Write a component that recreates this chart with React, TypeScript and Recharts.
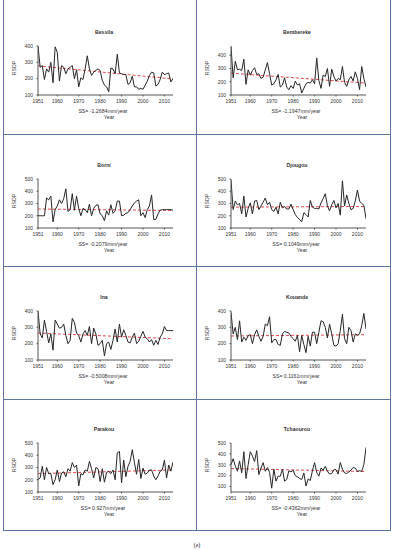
import React from 'react';
import { LineChart, Line, XAxis, YAxis, ReferenceLine } from 'recharts';

const years = [1951, 1952, 1953, 1954, 1955, 1956, 1957, 1958, 1959, 1960, 1961, 1962, 1963, 1964, 1965, 1966, 1967, 1968, 1969, 1970, 1971, 1972, 1973, 1974, 1975, 1976, 1977, 1978, 1979, 1980, 1981, 1982, 1983, 1984, 1985, 1986, 1987, 1988, 1989, 1990, 1991, 1992, 1993, 1994, 1995, 1996, 1997, 1998, 1999, 2000, 2001, 2002, 2003, 2004, 2005, 2006, 2007, 2008, 2009, 2010, 2011, 2012, 2013, 2014];
const xTicks = [1951, 1960, 1970, 1980, 1990, 2000, 2010];

const bessila = [400, 270, 280, 195, 260, 240, 300, 175, 395, 360, 185, 280, 270, 230, 260, 270, 280, 200, 255, 150, 205, 195, 260, 340, 260, 220, 240, 250, 260, 250, 190, 160, 150, 120, 265, 260, 230, 350, 235, 230, 225, 225, 165, 175, 215, 150, 150, 135, 140, 135, 160, 185, 220, 240, 235, 155, 165, 195, 240, 225, 230, 235, 180, 200];
const bembereke = [465, 230, 355, 290, 295, 285, 370, 180, 290, 250, 285, 305, 255, 260, 225, 235, 290, 345, 260, 175, 185, 215, 255, 160, 175, 230, 160, 140, 170, 150, 205, 175, 185, 115, 150, 185, 195, 190, 215, 185, 380, 210, 150, 250, 240, 300, 165, 295, 240, 205, 225, 215, 315, 195, 165, 215, 240, 205, 275, 225, 140, 315, 225, 160];
const borni = [200, 200, 200, 200, 345, 330, 360, 150, 250, 280, 330, 300, 340, 420, 235, 250, 380, 245, 360, 260, 200, 260, 250, 225, 295, 200, 260, 285, 290, 215, 200, 160, 240, 205, 290, 220, 240, 320, 320, 200, 205, 220, 225, 250, 280, 305, 320, 330, 200, 225, 185, 250, 280, 370, 170, 170, 215, 245, 250, 250, 250, 250, 250, 245];
const djougou = [490, 250, 320, 290, 300, 215, 360, 190, 260, 305, 215, 320, 325, 250, 280, 310, 345, 290, 310, 250, 235, 270, 215, 310, 265, 275, 255, 255, 295, 250, 210, 185, 170, 150, 225, 210, 190, 325, 270, 260, 260, 255, 305, 340, 380, 280, 240, 290, 325, 265, 300, 205, 485, 280, 370, 300, 250, 260, 320, 410, 320, 300, 285, 175];
const ina = [400, 260, 235, 345, 275, 205, 260, 160, 345, 320, 295, 300, 320, 250, 200, 220, 355, 330, 265, 250, 210, 260, 280, 250, 305, 200, 295, 260, 190, 200, 220, 125, 200, 210, 165, 220, 290, 210, 320, 240, 285, 250, 210, 205, 240, 265, 200, 215, 245, 275, 240, 230, 210, 225, 190, 220, 195, 240, 260, 305, 280, 280, 280, 280];
const kouande = [390, 260, 300, 225, 340, 210, 240, 220, 250, 255, 200, 255, 285, 245, 215, 245, 320, 310, 365, 205, 225, 225, 195, 190, 260, 275, 270, 265, 245, 230, 215, 250, 150, 250, 195, 145, 245, 185, 270, 270, 200, 270, 340, 335, 300, 235, 320, 260, 190, 185, 200, 280, 380, 230, 200, 300, 280, 210, 260, 250, 260, 310, 385, 290];
const parakou = [200, 215, 310, 200, 300, 250, 250, 160, 200, 280, 185, 255, 265, 225, 290, 270, 340, 300, 320, 150, 250, 240, 280, 270, 350, 290, 215, 300, 290, 185, 290, 180, 260, 270, 250, 280, 200, 420, 430, 175, 360, 225, 310, 350, 445, 340, 245, 365, 210, 295, 245, 255, 280, 280, 230, 200, 230, 270, 280, 360, 215, 320, 270, 345];
const tchaourou = [300, 355, 290, 240, 335, 225, 420, 175, 300, 420, 380, 330, 430, 210, 270, 320, 240, 275, 230, 85, 260, 150, 195, 195, 260, 150, 165, 245, 235, 250, 200, 190, 175, 165, 225, 105, 170, 155, 245, 320, 230, 195, 270, 250, 285, 240, 215, 220, 255, 255, 215, 320, 260, 225, 220, 235, 250, 275, 270, 240, 245, 240, 300, 460];

const stationNames = ['Bessila', 'Bembereke', 'Borni', 'Djougou', 'Ina', 'Kouande', 'Parakou', 'Tchaourou'];
const slopeLabels = ['SS= -1.2684mm/year', 'SS= -1.1947mm/year', 'SS= -0.2079mm/year', 'SS= 0.1049mm/year', 'SS= -0.5008mm/year', 'SS= 0.1161mm/year', 'SS= 0.927mm/year', 'SS= -0.4362mm/year'];
const trendStart = [278, 265, 255, 270, 265, 247, 250, 265];
const trendEnd = [198, 190, 243, 276, 230, 255, 280, 238];
const yMax = [400, 470, 500, 500, 400, 400, 500, 500];
const yMin = [100, 100, 100, 100, 100, 100, 100, 50];
const ticks400 = [100, 200, 300, 400];
const ticks500 = [100, 200, 300, 400, 500];
const seriesList = [bessila, bembereke, borni, djougou, ina, kouande, parakou, tchaourou];

const FONT = '"Liberation Sans", Arial, sans-serif';
const BORDER = '#5a74a3';

const colX = [3, 196];
const colW = [193, 194];
const rowY = [0, 134, 266, 399];
const rowH = [134, 132, 133, 131];
const plotTopRel = [46, 45, 45, 44];

function Panel({ idx }: { idx: number }) {
  const col = idx % 2;
  const row = Math.floor(idx / 2);
  const px = colX[col];
  const py = rowY[row];
  const w = colW[col];
  const h = rowH[row];
  const pt = plotTopRel[row];
  const plotW = 135;
  const plotH = 49;
  const xAxisH = 14;
  const data = years.map((y, i) => ({ year: y, v: seriesList[idx][i] }));
  const yTicks = yMax[idx] >= 500 ? ticks500 : ticks400;
  const txt: React.CSSProperties = {
    position: 'absolute',
    fontFamily: FONT,
    fontSize: 5.2,
    color: '#333',
    whiteSpace: 'nowrap',
    lineHeight: '6px',
  };
  const tickStyle = { fontSize: 5, fill: '#333', fontFamily: FONT };
  return (
    <div style={{ position: 'absolute', left: px, top: py, width: w, height: h }}>
      <LineChart
        width={w}
        height={h}
        data={data}
        margin={{ top: pt, left: 0, right: w - 35 - plotW, bottom: h - pt - plotH - xAxisH }}
      >
        <XAxis
          dataKey="year"
          type="number"
          domain={[1951, 2014]}
          ticks={xTicks}
          height={xAxisH}
          tickSize={1.5}
          tickMargin={2.5}
          allowDataOverflow
          stroke="#555"
          tick={tickStyle}
        />
        <YAxis
          domain={[yMin[idx], yMax[idx]]}
          ticks={yTicks}
          width={35}
          tickSize={1.5}
          tickMargin={3.5}
          allowDataOverflow
          stroke="#555"
          tick={tickStyle}
        />
        <ReferenceLine
          segment={[
            { x: 1951, y: trendStart[idx] },
            { x: 2014, y: trendEnd[idx] },
          ]}
          stroke="#e8464a"
          strokeWidth={1}
          strokeDasharray="3 2"
          ifOverflow="visible"
        />
        <Line
          type="linear"
          dataKey="v"
          stroke="#262626"
          strokeWidth={1}
          dot={false}
          isAnimationActive={false}
        />
      </LineChart>
      <div style={{ ...txt, left: 101, top: pt - 14, transform: 'translate(-50%, -50%)', fontWeight: 'bold' }}>
        {stationNames[idx]}
      </div>
      <div style={{ ...txt, left: 100, top: pt + 65, transform: 'translate(-50%, -50%)' }}>
        {slopeLabels[idx]}
      </div>
      <div style={{ ...txt, left: 106, top: pt + 70.5, transform: 'translate(-50%, -50%)' }}>Year</div>
      <div
        style={{
          ...txt,
          left: 11,
          top: pt + 22,
          transform: 'translate(-50%, -50%) rotate(-90deg)',
        }}
      >
        RSDP
      </div>
    </div>
  );
}

export default function App() {
  const lines: React.ReactNode[] = [];
  [3, 196, 390].forEach((x, i) =>
    lines.push(
      <div key={'v' + i} style={{ position: 'absolute', left: x - 0.5, top: 0, width: 1.5, height: 531, background: BORDER }} />
    )
  );
  [134, 266, 399, 530].forEach((y, i) =>
    lines.push(
      <div key={'h' + i} style={{ position: 'absolute', left: 3, top: y - 0.5, width: 388, height: 1.5, background: BORDER }} />
    )
  );
  return (
    <div style={{ position: 'absolute', left: 0, top: 0, width: 394, height: 550, background: '#fff', overflow: 'hidden' }}>
      {stationNames.map((_, i) => (
        <Panel key={i} idx={i} />
      ))}
      {lines}
      <div
        style={{
          position: 'absolute',
          left: 197,
          top: 545,
          transform: 'translate(-50%, -50%)',
          fontFamily: '"Liberation Serif", serif',
          fontSize: 6,
          color: '#222',
        }}
      >
        (e)
      </div>
    </div>
  );
}
